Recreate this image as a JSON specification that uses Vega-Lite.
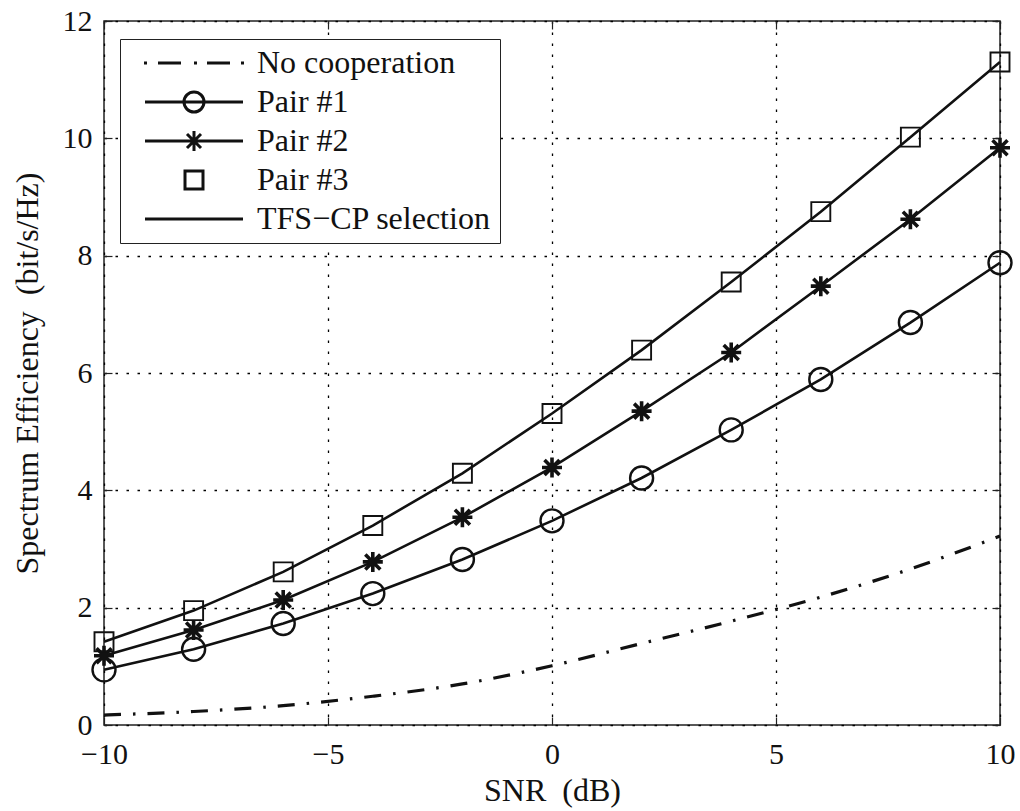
{
  "$schema": "https://vega.github.io/schema/vega-lite/v6.json",
  "autosize": "none",
  "width": 896,
  "height": 704,
  "padding": {"left": 104, "top": 21, "right": 20, "bottom": 86},
  "background": "white",
  "config": {
    "font": "Liberation Serif",
    "view": {"stroke": "#222", "strokeWidth": 1.5},
    "axis": {
      "labelFont": "Liberation Serif",
      "titleFont": "Liberation Serif",
      "labelColor": "#111",
      "titleColor": "#111",
      "titleFontWeight": "normal",
      "labelFontSize": 30,
      "titleFontSize": 32,
      "domain": false,
      "tickColor": "#222",
      "tickWidth": 1.2,
      "tickSize": -8,
      "gridColor": "#000",
      "gridDash": [2.5, 8.5],
      "gridWidth": 1.3,
      "gridOpacity": 1
    },
    "legend": {
      "labelFont": "Liberation Serif",
      "labelFontSize": 32,
      "labelColor": "#111"
    }
  },
  "data": {
    "values": [
      {"snr": -10, "se": 0.17, "series": "No cooperation"},
      {"snr": -8, "se": 0.23, "series": "No cooperation"},
      {"snr": -6, "se": 0.33, "series": "No cooperation"},
      {"snr": -4, "se": 0.49, "series": "No cooperation"},
      {"snr": -2, "se": 0.70, "series": "No cooperation"},
      {"snr": 0, "se": 1.01, "series": "No cooperation"},
      {"snr": 2, "se": 1.39, "series": "No cooperation"},
      {"snr": 4, "se": 1.77, "series": "No cooperation"},
      {"snr": 6, "se": 2.18, "series": "No cooperation"},
      {"snr": 8, "se": 2.66, "series": "No cooperation"},
      {"snr": 10, "se": 3.22, "series": "No cooperation"},
      {"snr": -10, "se": 0.94, "series": "Pair #1"},
      {"snr": -8, "se": 1.29, "series": "Pair #1"},
      {"snr": -6, "se": 1.73, "series": "Pair #1"},
      {"snr": -4, "se": 2.24, "series": "Pair #1"},
      {"snr": -2, "se": 2.82, "series": "Pair #1"},
      {"snr": 0, "se": 3.48, "series": "Pair #1"},
      {"snr": 2, "se": 4.21, "series": "Pair #1"},
      {"snr": 4, "se": 5.03, "series": "Pair #1"},
      {"snr": 6, "se": 5.89, "series": "Pair #1"},
      {"snr": 8, "se": 6.86, "series": "Pair #1"},
      {"snr": 10, "se": 7.88, "series": "Pair #1"},
      {"snr": -10, "se": 1.18, "series": "Pair #2"},
      {"snr": -8, "se": 1.62, "series": "Pair #2"},
      {"snr": -6, "se": 2.13, "series": "Pair #2"},
      {"snr": -4, "se": 2.78, "series": "Pair #2"},
      {"snr": -2, "se": 3.54, "series": "Pair #2"},
      {"snr": 0, "se": 4.39, "series": "Pair #2"},
      {"snr": 2, "se": 5.35, "series": "Pair #2"},
      {"snr": 4, "se": 6.35, "series": "Pair #2"},
      {"snr": 6, "se": 7.48, "series": "Pair #2"},
      {"snr": 8, "se": 8.62, "series": "Pair #2"},
      {"snr": 10, "se": 9.84, "series": "Pair #2"},
      {"snr": -10, "se": 1.42, "series": "Pair #3"},
      {"snr": -8, "se": 1.95, "series": "Pair #3"},
      {"snr": -6, "se": 2.61, "series": "Pair #3"},
      {"snr": -4, "se": 3.40, "series": "Pair #3"},
      {"snr": -2, "se": 4.29, "series": "Pair #3"},
      {"snr": 0, "se": 5.31, "series": "Pair #3"},
      {"snr": 2, "se": 6.39, "series": "Pair #3"},
      {"snr": 4, "se": 7.55, "series": "Pair #3"},
      {"snr": 6, "se": 8.75, "series": "Pair #3"},
      {"snr": 8, "se": 10.02, "series": "Pair #3"},
      {"snr": 10, "se": 11.30, "series": "Pair #3"}
    ]
  },
  "layer": [
    {
      "transform": [{"filter": "datum.series != 'No cooperation'"}],
      "mark": {"type": "line", "color": "#111", "strokeWidth": 2.6},
      "encoding": {
        "x": {"field": "snr", "type": "quantitative",
          "scale": {"domain": [-10, 10], "nice": false, "zero": false},
          "axis": {"orient": "bottom", "values": [-10, -5, 0, 5, 10], "grid": true, "title": "SNR\u00a0 (dB)", "labelPadding": 22, "titlePadding": 6, "labelFlush": false}},
        "y": {"field": "se", "type": "quantitative",
          "scale": {"domain": [0, 12], "nice": false, "zero": true},
          "axis": {"orient": "left", "values": [0, 2, 4, 6, 8, 10, 12], "grid": true, "title": "Spectrum Efficiency\u00a0 (bit/s/Hz)", "labelPadding": 20, "titlePadding": 18, "labelFlush": false}},
        "detail": {"field": "series"}
      }
    },
    {
      "transform": [{"filter": "datum.series == 'No cooperation'"}],
      "mark": {"type": "line", "color": "#111", "strokeWidth": 3.2, "strokeDash": [17, 12, 2.5, 12], "interpolate": "monotone"},
      "encoding": {
        "x": {"field": "snr", "type": "quantitative",
          "axis": {"orient": "top", "values": [-10, -5, 0, 5, 10], "grid": false, "labels": false, "title": null}},
        "y": {"field": "se", "type": "quantitative",
          "axis": {"orient": "right", "values": [0, 2, 4, 6, 8, 10, 12], "grid": false, "labels": false, "title": null}}
      }
    },
    {
      "transform": [{"filter": "datum.series == 'Pair #1'"}],
      "mark": {"type": "point", "shape": "M-1.15,0A1.15,1.15 0 1,1 1.15,0A1.15,1.15 0 1,1 -1.15,0Z", "size": 400, "filled": false, "color": "#111", "strokeWidth": 2.4, "opacity": 1},
      "encoding": {
        "x": {"field": "snr", "type": "quantitative", "axis": null},
        "y": {"field": "se", "type": "quantitative", "axis": null}
      }
    },
    {
      "transform": [{"filter": "datum.series == 'Pair #2'"}],
      "mark": {"type": "point", "shape": "M0,-1V1M-1,0H1M-0.75,-0.75L0.75,0.75M-0.75,0.75L0.75,-0.75", "size": 400, "filled": false, "color": "#111", "strokeWidth": 3.6, "opacity": 1},
      "encoding": {
        "x": {"field": "snr", "type": "quantitative", "axis": null},
        "y": {"field": "se", "type": "quantitative", "axis": null}
      }
    },
    {
      "transform": [{"filter": "datum.series == 'Pair #3'"}],
      "mark": {"type": "point", "shape": "M-0.95,-0.95H0.95V0.95H-0.95Z", "size": 400, "filled": false, "color": "#111", "strokeWidth": 1.9, "opacity": 1},
      "encoding": {
        "x": {"field": "snr", "type": "quantitative", "axis": null},
        "y": {"field": "se", "type": "quantitative", "axis": null}
      }
    },
    {
      "transform": [{"filter": "false"}],
      "mark": {"type": "point", "filled": false, "color": "#111", "strokeWidth": 3},
      "encoding": {
        "x": {"field": "snr", "type": "quantitative", "axis": null},
        "y": {"field": "se", "type": "quantitative", "axis": null},
        "shape": {
          "field": "series", "type": "nominal",
          "scale": {
            "domain": ["No cooperation", "Pair #1", "Pair #2", "Pair #3", "TFS−CP selection"],
            "range": [
              "M0,0H0.3M1.4,0H3.7M5,0H5.3M6.3,0H8.6M9.7,0H10",
              "M0.1,0H9.9M4,0A1,1 0 1,1 6,0A1,1 0 1,1 4,0",
              "M0.1,0H9.9M5,-1V1M4.3,-0.7L5.7,0.7M4.3,0.7L5.7,-0.7",
              "M4.1,-0.9H5.9V0.9H4.1Z",
              "M0.1,0H9.9"
            ]
          },
          "legend": {
            "title": null,
            "orient": "none",
            "legendX": 16,
            "legendY": 18,
            "padding": 8,
            "rowPadding": 7,
            "symbolSize": 400,
            "symbolStrokeColor": "#111",
            "symbolFillColor": "transparent",
            "symbolStrokeWidth": 3,
            "symbolOpacity": 1,
            "labelOffset": 97,
            "labelFontSize": 32,
            "labelLimit": 400,
            "strokeColor": "#222",
            "fillColor": "white"
          }
        }
      }
    }
  ],
  "resolve": {"axis": {"x": "independent", "y": "independent"}, "scale": {"shape": "independent"}}
}
